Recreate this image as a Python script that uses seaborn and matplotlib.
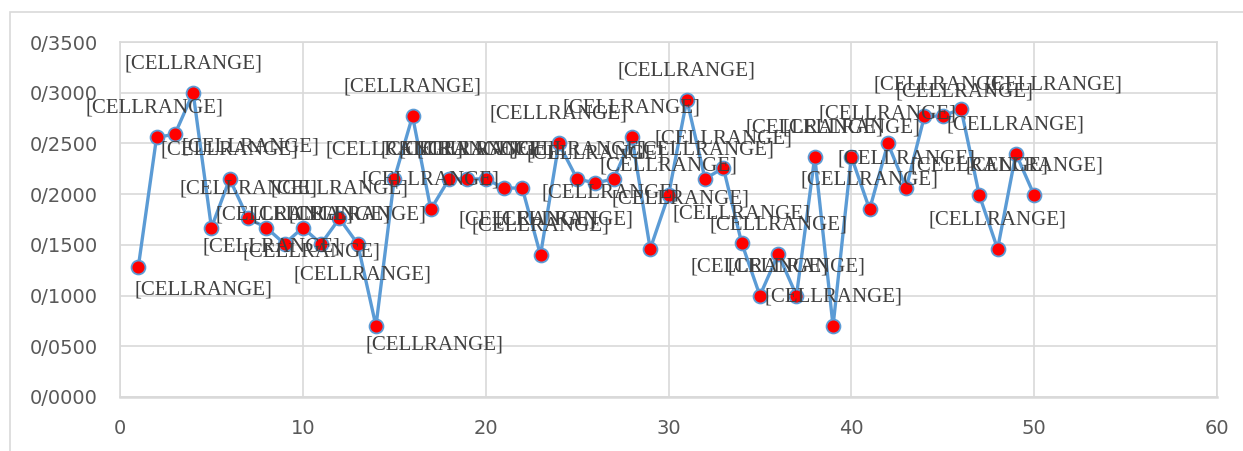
import matplotlib
matplotlib.use('Agg')
import matplotlib.pyplot as plt
import seaborn as sns
import pandas as pd
from matplotlib.patches import Rectangle
from matplotlib.ticker import FuncFormatter

# values
x_values = list(range(1, 51))
y_values = [0.128, 0.256, 0.259, 0.300, 0.167, 0.215, 0.176, 0.167, 0.151, 0.167,
            0.151, 0.176, 0.151, 0.070, 0.215, 0.277, 0.185, 0.215, 0.215, 0.215,
            0.206, 0.206, 0.140, 0.250, 0.215, 0.211, 0.215, 0.256, 0.146, 0.199,
            0.293, 0.215, 0.226, 0.152, 0.100, 0.141, 0.100, 0.237, 0.070, 0.237,
            0.185, 0.250, 0.206, 0.277, 0.277, 0.284, 0.199, 0.146, 0.240, 0.199]
point_labels = ['[CELLRANGE]'] * len(x_values)
x_ticks = [0, 10, 20, 30, 40, 50, 60]
y_ticks = [0, 0.05, 0.10, 0.15, 0.20, 0.25, 0.30, 0.35]

# label placement (pixel offsets from the point, +x right, +y down); default is centred above
label_offsets = {1: (65, 23), 2: (-2, -29), 3: (76, 13), 5: (60, 19), 8: (45, 24),
                 10: (60, 47), 14: (58, 19), 21: (23, 32), 22: (42, 32), 27: (-3, 14),
                 29: (30, -50), 44: (18, -31), 45: (22, -24), 46: (92, -24)}

df = pd.DataFrame({'x': x_values, 'y': y_values})

sns.set_theme(style='white')
plt.rcParams['font.family'] = ['DejaVu Sans']

fig = plt.figure(figsize=(12.43, 4.51), dpi=100)
ax = fig.add_axes([120 / 1243, 1 - 397 / 451, 1097 / 1243, 355 / 451])

line_blue = '#5B9BD5'
grid_grey = '#D9D9D9'

sns.lineplot(data=df, x='x', y='y', ax=ax, color=line_blue, linewidth=2.4,
             marker='o', markersize=10, markerfacecolor='#FF0000',
             markeredgecolor=line_blue, markeredgewidth=1.3, errorbar=None)

for xv, yv, lab in zip(x_values, y_values, point_labels):
    dx, dy = label_offsets.get(xv, (0, -29))
    ax.annotate(lab, (xv, yv), xytext=(dx, -dy), textcoords='offset pixels',
                ha='center', va='center', fontsize=15, color='#404040',
                family='Liberation Serif', zorder=5)

ax.set_xlim(0, 60)
ax.set_ylim(0, 0.35)
ax.set_xticks(x_ticks)
ax.set_yticks(y_ticks)
ax.yaxis.set_major_formatter(FuncFormatter(lambda v, p: f'{v:.4f}'.replace('.', '/')))
ax.tick_params(axis='both', length=0, labelsize=14, labelcolor='#595959')
ax.tick_params(axis='x', pad=16)
ax.tick_params(axis='y', pad=16)
ax.set_xlabel('')
ax.set_ylabel('')
ax.grid(True, color=grid_grey, linewidth=1.2)
ax.set_axisbelow(True)
for side in ['top', 'right', 'left', 'bottom']:
    ax.spines[side].set_color(grid_grey)
    ax.spines[side].set_linewidth(1.2)
ax.spines['bottom'].set_linewidth(1.8)

# outer chart border
fig.patches.append(Rectangle((10 / 1243, -0.1), 1.2, 1 - 12 / 451 + 0.1,
                             transform=fig.transFigure, fill=False,
                             edgecolor=grid_grey, linewidth=1.2))

fig.savefig('out.png', dpi=100)
